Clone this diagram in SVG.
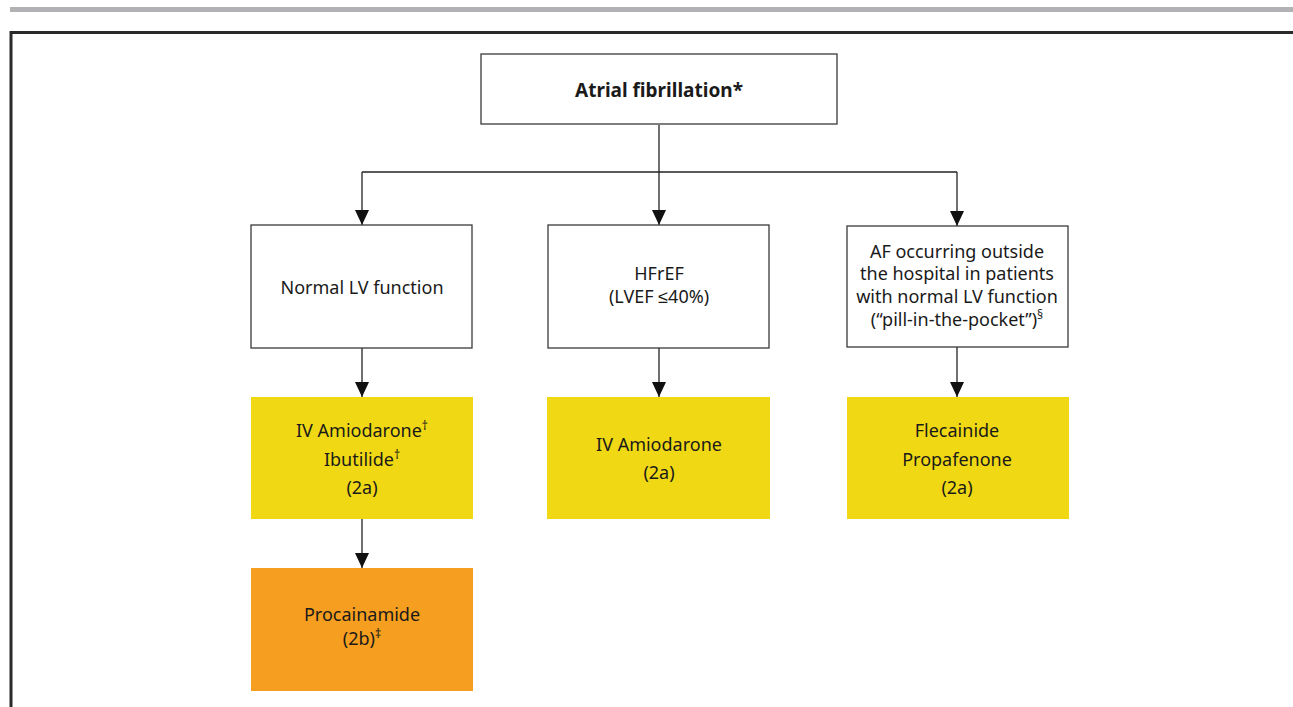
<svg xmlns="http://www.w3.org/2000/svg" width="1293" height="707" viewBox="0 0 1293 707">
<defs>
<marker id="ah" markerWidth="16" markerHeight="14" refX="15" refY="7" orient="auto" markerUnits="userSpaceOnUse" viewBox="0 0 16 14">
<path d="M0,0 L15,7 L0,14 Z" fill="#111"/>
</marker>
<style>
.box{fill:#fff;stroke:#3a3a3a;stroke-width:1.3}
.yel{fill:#f0d914}
.org{fill:#f59e1f}
.t{font-family:"Noto Sans","Liberation Sans",sans-serif;font-size:18px;fill:#1a1a1a;text-anchor:middle}
.b{font-weight:bold;font-size:19px}
.sup{font-size:12px}
.conn{fill:none;stroke:#222;stroke-width:1.3}
</style>
</defs>
<rect width="1293" height="707" fill="#fff"/>
<rect x="10" y="7" width="1283" height="5" fill="#b2b2b4"/>
<path d="M11,707 L11,32.5 L1293,32.5" fill="none" stroke="#2a2a2a" stroke-width="3"/>

<g id="connectors">
<path class="conn" d="M659,125 L659,225" marker-end="url(#ah)"/>
<path class="conn" d="M362,172 L957,172"/>
<path class="conn" d="M957,172 L957,226" marker-end="url(#ah)"/>
<path class="conn" d="M362,172 L362,225" marker-end="url(#ah)"/>
<path class="conn" d="M362,348 L362,397" marker-end="url(#ah)"/>
<path class="conn" d="M659,348 L659,397" marker-end="url(#ah)"/>
<path class="conn" d="M957,347 L957,397" marker-end="url(#ah)"/>
<path class="conn" d="M362,519 L362,568" marker-end="url(#ah)"/>
</g>

<g id="n_af">
<rect class="box" x="481" y="54" width="356" height="70"/>
<text class="t b" x="659" y="97">Atrial fibrillation*</text>
</g>

<g id="n_normal">
<rect class="box" x="251" y="225" width="221" height="123"/>
<text class="t" x="362" y="294">Normal LV function</text>
</g>

<g id="n_hfref">
<rect class="box" x="548" y="225" width="221" height="123"/>
<text class="t" x="659" y="280">HFrEF</text>
<text class="t" x="659" y="303">(LVEF ≤40%)</text>
</g>

<g id="n_outside">
<rect class="box" x="847" y="226" width="221" height="121"/>
<text class="t" x="957" y="258">AF occurring outside</text>
<text class="t" x="957" y="280">the hospital in patients</text>
<text class="t" x="957" y="303">with normal LV function</text>
<text class="t" x="957" y="326">(“pill-in-the-pocket”)<tspan class="sup" dy="-7">§</tspan></text>
</g>

<g id="n_amio_ibut">
<rect class="yel" x="251" y="397" width="222" height="122"/>
<text class="t" x="362" y="437">IV Amiodarone<tspan class="sup" dy="-7">†</tspan></text>
<text class="t" x="362" y="466">Ibutilide<tspan class="sup" dy="-7">†</tspan></text>
<text class="t" x="362" y="494">(2a)</text>
</g>

<g id="n_amio">
<rect class="yel" x="547" y="397" width="223" height="122"/>
<text class="t" x="659" y="451">IV Amiodarone</text>
<text class="t" x="659" y="479">(2a)</text>
</g>

<g id="n_flec">
<rect class="yel" x="847" y="397" width="222" height="122"/>
<text class="t" x="957" y="437">Flecainide</text>
<text class="t" x="957" y="466">Propafenone</text>
<text class="t" x="957" y="494">(2a)</text>
</g>

<g id="n_proc">
<rect class="org" x="251" y="568" width="222" height="123"/>
<text class="t" x="362" y="621">Procainamide</text>
<text class="t" x="362" y="645">(2b)<tspan class="sup" dy="-7">‡</tspan></text>
</g>
</svg>
